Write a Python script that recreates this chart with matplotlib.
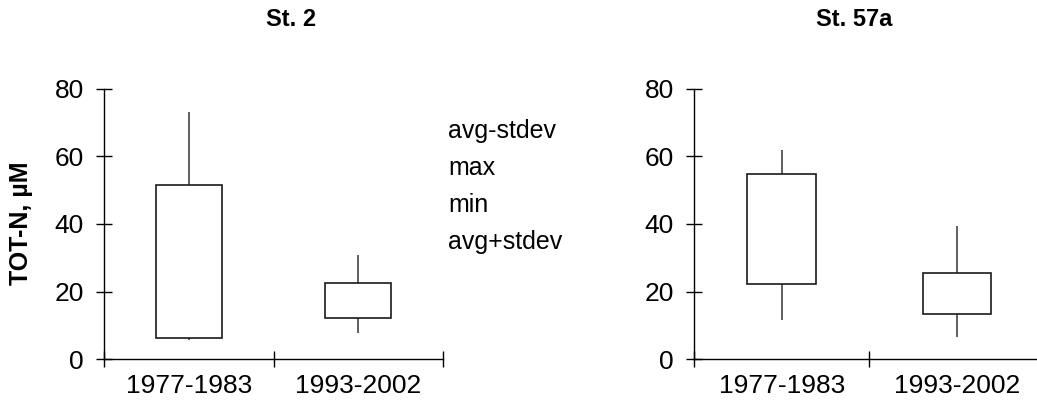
import numpy as np
import matplotlib
matplotlib.use('Agg')
import matplotlib.pyplot as plt

plt.rcParams['font.family'] = ['Liberation Sans', 'DejaVu Sans']

periods = ['1977-1983', '1993-2002']

# St. 2
st2_min = [5.6, 7.6]
st2_max = [73.1, 30.8]
st2_lo = [6.1, 12.1]     # avg - stdev
st2_hi = [51.5, 22.4]    # avg + stdev

# St. 57a
st57_min = [11.7, 6.6]
st57_max = [61.8, 39.5]
st57_lo = [22.3, 13.4]
st57_hi = [54.8, 25.5]

legend_items = ['avg-stdev', 'max', 'min', 'avg+stdev']

fs = 19
box_w = 0.39
box_col = '#1a1a1a'
whisk_col = '#444444'


def draw_panel(ax, lo, hi, vmin, vmax):
    x = np.arange(1, len(periods) + 1)
    lo = np.array(lo)
    hi = np.array(hi)
    ax.vlines(x, hi, vmax, color=whisk_col, lw=1.2, zorder=2)
    ax.vlines(x, vmin, lo, color=whisk_col, lw=1.2, zorder=2)
    ax.bar(x, hi - lo, bottom=lo, width=box_w, color='white',
           edgecolor=box_col, linewidth=1.2, zorder=3)

    ax.set_xlim(0.5, len(periods) + 0.5)
    ax.set_ylim(0, 80)
    ax.set_yticks([0, 20, 40, 60, 80])
    # boundary ticks cross the axis, labels sit between them
    ax.set_xticks(np.arange(0.5, len(periods) + 1, 1.0))
    ax.set_xticklabels([])
    ax.set_xticks(x, minor=True)
    ax.set_xticklabels(periods, minor=True)
    ax.tick_params(axis='x', which='major', direction='inout', length=11,
                   width=1, color='black')
    ax.tick_params(axis='x', which='minor', length=0, pad=11, labelsize=fs)
    ax.tick_params(axis='y', direction='inout', length=11, width=1,
                   pad=9, labelsize=fs)
    for s in ['top', 'right']:
        ax.spines[s].set_visible(False)
    for s in ['left', 'bottom']:
        ax.spines[s].set_linewidth(1)
        ax.spines[s].set_clip_on(False)


fig = plt.figure(figsize=(10.37, 4.11), dpi=100)
ax1 = fig.add_axes([0.1003, 0.1265, 0.3269, 0.6570])
ax2 = fig.add_axes([0.6692, 0.1265, 0.3385, 0.6570])

draw_panel(ax1, st2_lo, st2_hi, st2_min, st2_max)
draw_panel(ax2, st57_lo, st57_hi, st57_min, st57_max)

fig.text(291 / 1037, 1 - 20 / 411, 'St. 2', ha='center', va='center',
         fontsize=17, fontweight='bold')
fig.text(854 / 1037, 1 - 20 / 411, 'St. 57a', ha='center', va='center',
         fontsize=17, fontweight='bold')
fig.text(21 / 1037, 1 - 223 / 411, 'TOT-N, µM', rotation=90, ha='center',
         va='center', fontsize=18, fontweight='bold')

# leftover series names, drawn without keys
for i, name in enumerate(legend_items):
    fig.text(448 / 1037, 1 - (131 + 37 * i) / 411, name, ha='left',
             va='center', fontsize=18)

fig.savefig('out.png', dpi=100)
